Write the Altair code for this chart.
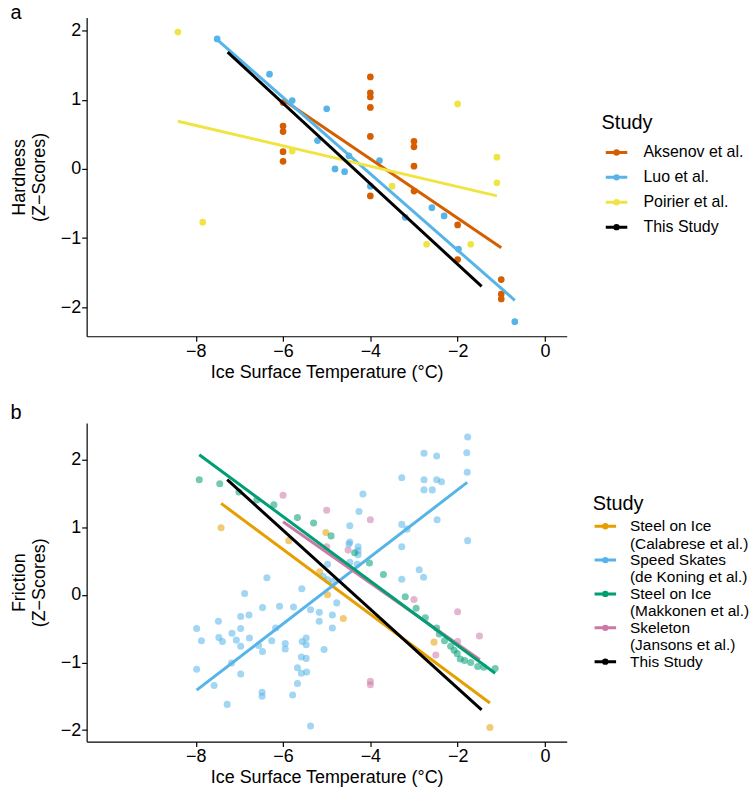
import altair as alt
import pandas as pd

FONT = "Liberation Sans"

# ---------------- Panel a: ice hardness ----------------
hard_studies = ["Aksenov et al.", "Luo et al.", "Poirier et al.", "This Study"]
hard_colors = ["#D55E00", "#56B4E9", "#F0E442", "#000000"]

aksenov_x = [-6, -6, -6, -6, -6, -4, -4, -4, -4, -4, -4, -3, -3, -3, -3, -2, -2, -1, -1, -1]
aksenov_y = [0.96, 0.62, 0.54, 0.25, 0.11, 1.33, 1.10, 1.04, 0.89, 0.47, -0.39,
             0.40, 0.32, 0.04, -0.32, -0.81, -1.31, -1.60, -1.81, -1.88]

luo_x = [-7.51, -6.31, -5.79, -5.0, -5.21, -4.81, -4.59, -4.49, -3.79, -4.0, -3.2, -2.59, -2.31, -1.98, -0.69]
luo_y = [1.88, 1.37, 0.99, 0.87, 0.41, 0.0, -0.04, 0.19, 0.12, -0.25, -0.70, -0.56, -0.68, -1.16, -2.21]

poirier_x = [-8.41, -7.84, -5.79, -3.5, -2.71, -2.0, -1.7, -1.1, -1.1]
poirier_y = [1.98, -0.77, 0.26, -0.25, -1.09, 0.94, -1.09, 0.17, -0.20]

# fitted trend lines (start, end)
hard_fit_x = {"Aksenov et al.": [-6.0, -1.0], "Luo et al.": [-7.51, -0.69],
              "Poirier et al.": [-8.41, -1.10], "This Study": [-7.27, -1.45]}
hard_fit_y = {"Aksenov et al.": [1.0, -1.14], "Luo et al.": [1.87, -1.90],
              "Poirier et al.": [0.69, -0.39], "This Study": [1.69, -1.70]}

# ---------------- Panel b: ice friction ----------------
fric_studies = ["Steel on Ice (Calabrese et al.)", "Speed Skates (de Koning et al.)",
                "Steel on Ice (Makkonen et al.)", "Skeleton (Jansons et al.)", "This Study"]
fric_colors = ["#E69F00", "#56B4E9", "#009E73", "#CC79A7", "#000000"]

calabrese_x = [-7.42, -5.87, -5.02, -5.16, -4.98, -4.62, -2.54, -1.26]
calabrese_y = [0.99, 0.80, 0.92, 0.34, 0.0, -0.35, -0.70, -1.96]

dekoning_x = [-1.77, -1.79, -1.78, -2.77, -2.48, -3.28, -2.77, -2.48, -2.37, -2.77, -2.58,
              -4.17, -4.26, -4.47, -3.28, -2.47, -3.16, -1.77, -3.28, -4.47, -4.49, -4.28,
              -4.28, -4.28, -4.47, -4.30, -4.98, -5.08, -4.98, -4.84, -2.88, -2.78, -3.28,
              -5.57, -4.77, -6.37, -6.88, -6.47, -6.08, -5.76, -5.37, -5.17, -5.17, -4.87,
              -4.87, -7.48, -6.97, -6.78, -7.98, -7.87, -7.47, -7.39, -7.17, -7.07, -6.97,
              -6.97, -6.77, -6.56, -6.47, -6.26, -6.17, -5.95, -5.95, -5.56, -5.47, -5.47,
              -5.58, -5.47, -5.06, -5.67, -5.58, -5.46, -7.98, -7.18, -6.97, -7.58, -7.28,
              -6.48, -6.48, -5.67, -5.78, -5.37]
dekoning_y = [2.33, 2.10, 1.81, 2.09, 2.05, 1.73, 1.70, 1.70, 1.67, 1.55, 1.55,
              1.49, 1.23, 1.02, 1.04, 1.11, 0.97, 0.80, 0.71, 0.78, 0.75, 0.71,
              0.65, 0.59, 0.48, 0.45, 0.45, 0.27, 0.22, 0.20, 0.37, 0.26, 0.23,
              0.09, -0.12, 0.25, 0.02, -0.19, -0.17, -0.18, -0.22, -0.26, -0.39, -0.30,
              -0.49, -0.39, -0.32, -0.30, -0.50, -0.68, -0.63, -0.69, -0.57, -0.67, -0.50,
              -0.76, -0.64, -0.75, -0.84, -0.68, -0.49, -0.72, -0.80, -0.69, -0.64, -0.74,
              -0.92, -0.94, -0.81, -1.08, -1.16, -1.14, -1.10, -1.01, -1.17, -1.34, -1.62,
              -1.44, -1.50, -1.31, -1.48, -1.94]

makkonen_x = [-7.92, -7.45, -7.01, -6.60, -6.21, -5.67, -5.30, -4.90, -4.36, -4.02, -3.70,
              -3.20, -2.95, -2.74, -2.48, -2.42, -2.30, -2.16, -2.08, -2.01, -1.94, -1.84,
              -1.70, -1.54, -1.40, -1.14]
makkonen_y = [1.70, 1.64, 1.52, 1.40, 1.33, 1.14, 1.06, 0.87, 0.62, 0.47, 0.30,
              -0.03, -0.20, -0.34, -0.49, -0.58, -0.68, -0.76, -0.82, -0.87, -0.95, -0.97,
              -1.00, -1.06, -1.07, -1.09]

jansons_x = [-6.0, -5.0, -4.0, -5.0, -4.51, -3.0, -2.0, -2.0, -2.5, -1.5, -4.0, -4.0]
jansons_y = [1.47, 1.25, 1.11, 0.71, 0.66, -0.07, -0.25, -0.69, -0.89, -0.61, -1.28, -1.33]

fric_fit_x = {"Steel on Ice (Calabrese et al.)": [-7.42, -1.26],
              "Speed Skates (de Koning et al.)": [-7.98, -1.78],
              "Skeleton (Jansons et al.)": [-6.0, -1.49],
              "Steel on Ice (Makkonen et al.)": [-7.92, -1.14],
              "This Study": [-7.28, -1.45]}
fric_fit_y = {"Steel on Ice (Calabrese et al.)": [1.35, -1.60],
              "Speed Skates (de Koning et al.)": [-1.41, 1.66],
              "Skeleton (Jansons et al.)": [1.08, -0.96],
              "Steel on Ice (Makkonen et al.)": [2.07, -1.16],
              "This Study": [1.70, -1.70]}

x_ticks = [-8, -6, -4, -2, 0]
y_ticks = [-2, -1, 0, 1, 2]
x_domain = [-10.5, 0.5]


def points_frame(pairs):
    rows = []
    for study, xs, ys in pairs:
        rows += [{"study": study, "temp": x, "z": y} for x, y in zip(xs, ys)]
    return pd.DataFrame(rows)


def lines_frame(fx, fy):
    rows = []
    for study in fx:
        rows += [{"study": study, "temp": x, "z": y} for x, y in zip(fx[study], fy[study])]
    return pd.DataFrame(rows)


hard_pts = points_frame([("Aksenov et al.", aksenov_x, aksenov_y),
                         ("Luo et al.", luo_x, luo_y),
                         ("Poirier et al.", poirier_x, poirier_y)])
hard_lines = lines_frame(hard_fit_x, hard_fit_y)

fric_pts = points_frame([("Steel on Ice (Calabrese et al.)", calabrese_x, calabrese_y),
                         ("Speed Skates (de Koning et al.)", dekoning_x, dekoning_y),
                         ("Steel on Ice (Makkonen et al.)", makkonen_x, makkonen_y),
                         ("Skeleton (Jansons et al.)", jansons_x, jansons_y)])
fric_lines = lines_frame(fric_fit_x, fric_fit_y)

# legend key: a wide, flat line with a dot in the middle (small symbol size keeps rows compact)
KEY = "M-1.8,0H1.8M-0.28,0A0.28,0.28 0 1,0 0.28,0A0.28,0.28 0 1,0 -0.28,0"
TWO_LINE = ("indexof(datum.label, ' (') > 0 ? "
            "[slice(datum.label, 0, indexof(datum.label, ' (')), "
            "slice(datum.label, indexof(datum.label, ' (') + 1)] : datum.label")


def panel(pts, lines, studies, colors, y_dom, y_title, letter, letter_offset,
          opacity, dot_size, lx, ly, row_pad, label_size, title_pad, sym_off, lab_off):
    x_enc = alt.X("temp:Q", scale=alt.Scale(domain=x_domain, nice=False, zero=False),
                  axis=alt.Axis(values=x_ticks, title="Ice Surface Temperature (°C)"))
    y_enc = alt.Y("z:Q", scale=alt.Scale(domain=y_dom, nice=False, zero=False),
                  axis=alt.Axis(values=y_ticks, title=y_title, titlePadding=12))
    legend = alt.Legend(title="Study", orient="none", legendX=lx, legendY=ly,
                        symbolType=KEY, symbolSize=144, symbolStrokeWidth=3,
                        symbolOpacity=1, symbolOffset=sym_off, rowPadding=row_pad,
                        labelExpr=TWO_LINE, labelFontSize=label_size, titleFontSize=20,
                        titleFontWeight="normal", titlePadding=title_pad, labelOffset=lab_off)
    color = alt.Color("study:N", scale=alt.Scale(domain=studies, range=colors), legend=legend)
    dots = alt.Chart(pts).mark_circle(size=dot_size, opacity=opacity).encode(
        x=x_enc, y=y_enc, color=color)
    fits = alt.Chart(lines).mark_line(strokeWidth=3, strokeCap="butt").encode(
        x=x_enc, y=y_enc, color=color, detail="study:N")
    return alt.layer(dots, fits).properties(
        width=482, height=320,
        title=alt.TitleParams(letter, anchor="start", frame="bounds", fontSize=20,
                              fontWeight="normal", font=FONT, offset=letter_offset))


top = panel(hard_pts, hard_lines, hard_studies, hard_colors, [-2.42, 2.19],
            ["Hardness", "(Z\u2212Scores)"], "a", -6, 1.0, 45, 517, 96, 9, 16, 11.5, 7, 19)
bottom = panel(fric_pts, fric_lines, fric_studies, fric_colors, [-2.17, 2.54],
               ["Friction", "(Z\u2212Scores)"], "b", 0, 0.55, 50, 508, 71, 0, 15.5, 5, 5, 17)

chart = alt.vconcat(top, bottom, spacing=22).resolve_scale(color="independent").configure(
    font=FONT, padding={"left": 10, "top": 2, "right": 0, "bottom": 0}
).configure_view(stroke=None).configure_axis(
    grid=False, domainColor="black", domainWidth=1.2, tickColor="black", tickWidth=1.2,
    tickSize=5, labelColor="black", labelFontSize=18, titleFontSize=18, titleColor="black",
    titleFontWeight="normal", labelPadding=1, titlePadding=3, labelFont=FONT, titleFont=FONT
).configure_legend(labelFont=FONT, titleFont=FONT, labelColor="black", titleColor="black",
                   labelLimit=300)

chart.save("out.html", embed_options={"renderer": "svg", "actions": False})
